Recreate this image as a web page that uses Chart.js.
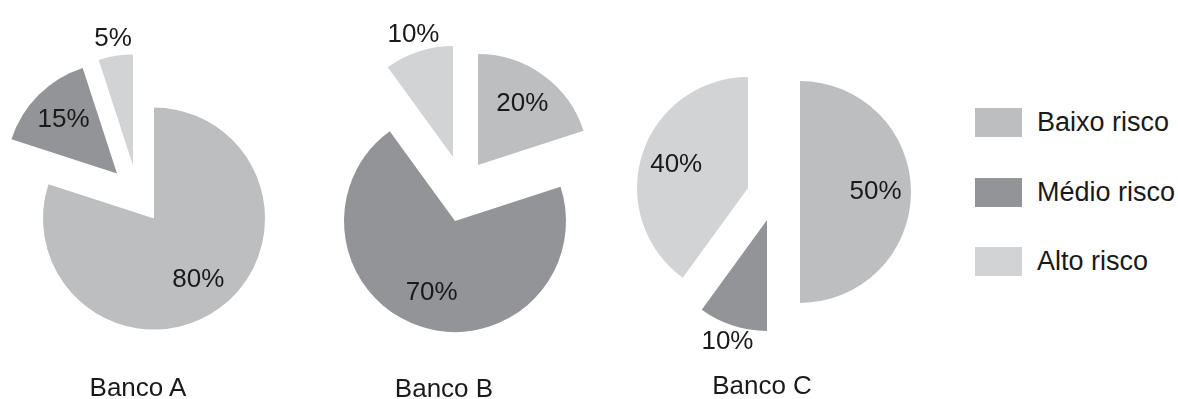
<!DOCTYPE html>
<html>
<head>
<meta charset="utf-8">
<script src="https://cdn.jsdelivr.net/npm/chart.js@4.4.0/dist/chart.umd.min.js"></script>
<style>
  body { margin: 0; width: 1178px; height: 399px; overflow: hidden; background: #fff; position: relative;
         font-family: 'Liberation Sans', Arial, sans-serif; color: #1a1a1a; }
  canvas { position: absolute; top: 0; }
  .titulo { position: absolute; font-size: 26px; transform: translate(-50%, -50%); white-space: nowrap; }
  #legenda { position: absolute; left: 975px; top: 88px; }
  .item { display: flex; align-items: center; height: 69.5px; font-size: 27px; white-space: nowrap; }
  .caixa { width: 47px; height: 29px; margin-right: 15px; }
</style>
</head>
<body>
<canvas id="pieA" width="300" height="399" style="left:4px"></canvas>
<canvas id="pieB" width="300" height="399" style="left:305px"></canvas>
<canvas id="pieC" width="300" height="399" style="left:626px"></canvas>
<div id="titulos"></div>
<div id="legenda"></div>

<script>
// dados
const categorias = ['Baixo risco', 'Médio risco', 'Alto risco'];
const bancos = ['Banco A', 'Banco B', 'Banco C'];
const valoresA = [80, 15, 5];
const valoresB = [20, 70, 10];
const valoresC = [50, 10, 40];

const cores = ['#bdbec0', '#939498', '#d2d3d5'];

// aparência de cada pizza: deslocamento das fatias "explodidas", padding, posição do título
const estilos = [
  { id: 'pieA', valores: valoresA, desloc: [[0, 0], [-37, -45], [-21, -53]], pad: { top: 38, bottom: 0 }, titulo: [138, 387] },
  { id: 'pieB', valores: valoresB, desloc: [[23, -56], [0, 0], [-2, -64]], pad: { top: 43, bottom: 0 }, titulo: [444, 388] },
  { id: 'pieC', valores: valoresC, desloc: [[24, 0], [-9, 28], [-28, -4]], pad: { top: 0, bottom: 15 }, titulo: [762, 385] }
];
const raio = 111;

estilos.forEach((est, k) => {
  // plugin que afasta as fatias e escreve as porcentagens
  const fatias = {
    id: 'fatias' + k,
    beforeDatasetsDraw(chart) {
      chart.getDatasetMeta(0).data.forEach((arc, i) => {
        arc._orig = [arc.x, arc.y];
        arc.x += est.desloc[i][0];
        arc.y += est.desloc[i][1];
      });
    },
    afterDatasetsDraw(chart) {
      const ctx = chart.ctx;
      ctx.save();
      ctx.font = '26px "Liberation Sans", Arial, sans-serif';
      ctx.fillStyle = '#1a1a1a';
      ctx.textAlign = 'center';
      ctx.textBaseline = 'middle';
      chart.getDatasetMeta(0).data.forEach((arc, i) => {
        const v = est.valores[i];
        const meio = (arc.startAngle + arc.endAngle) / 2;
        const d = v > 10 ? arc.outerRadius * 0.68 : arc.outerRadius + 17;
        ctx.fillText(v + '%', arc.x + Math.cos(meio) * d, arc.y + Math.sin(meio) * d);
        arc.x = arc._orig[0];
        arc.y = arc._orig[1];
      });
      ctx.restore();
    }
  };

  new Chart(document.getElementById(est.id), {
    type: 'pie',
    data: {
      labels: categorias,
      datasets: [{
        data: est.valores,
        backgroundColor: cores,
        borderWidth: 0
      }]
    },
    options: {
      responsive: false,
      animation: false,
      events: [],
      radius: raio,
      layout: { padding: { left: 0, right: 0, top: est.pad.top, bottom: est.pad.bottom } },
      plugins: { legend: { display: false }, tooltip: { enabled: false } }
    },
    plugins: [fatias]
  });

  const t = document.createElement('div');
  t.className = 'titulo';
  t.style.left = est.titulo[0] + 'px';
  t.style.top = est.titulo[1] + 'px';
  t.textContent = bancos[k];
  document.getElementById('titulos').appendChild(t);
});

// legenda
const legenda = document.getElementById('legenda');
categorias.forEach((c, i) => {
  const item = document.createElement('div');
  item.className = 'item';
  item.innerHTML = '<div class="caixa" style="background:' + cores[i] + '"></div><span>' + c + '</span>';
  legenda.appendChild(item);
});
</script>
</body>
</html>
